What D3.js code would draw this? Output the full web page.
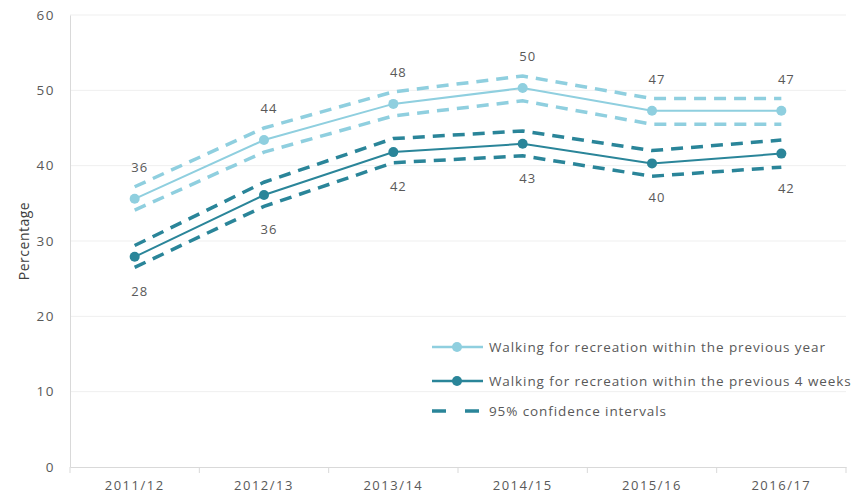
<!DOCTYPE html>
<html><head><meta charset="utf-8">
<script src="https://cdn.jsdelivr.net/npm/d3@7"></script>
<style>body{margin:0;background:#fff;} text{font-family:"Open Sans","DejaVu Sans",sans-serif;}</style>
</head><body>
<svg id="c" width="855" height="500"></svg>
<script>
const categories = ["2011/12","2012/13","2013/14","2014/15","2015/16","2016/17"];
const yearValues = [35.6, 43.4, 48.2, 50.3, 47.3, 47.3];
const yearUpper  = [37.2, 45.0, 49.8, 51.9, 48.9, 48.9];
const yearLower  = [34.1, 41.8, 46.6, 48.6, 45.5, 45.5];
const yearLabels = ["36","44","48","50","47","47"];
const weekValues = [27.9, 36.1, 41.8, 42.9, 40.3, 41.6];
const weekUpper  = [29.4, 37.8, 43.6, 44.6, 42.0, 43.4];
const weekLower  = [26.5, 34.6, 40.4, 41.3, 38.6, 39.8];
const weekLabels = ["28","36","42","43","40","42"];
const yTicks = [0,10,20,30,40,50,60];
const legendLabels = ["Walking for recreation within the previous year","Walking for recreation within the previous 4 weeks","95% confidence intervals"];

const light = "#8fcfdf", dark = "#2a8599", textCol = "#595959";
const svg = d3.select("#c");
const m = {l:70, r:846, t:15, b:467};
const x = d3.scaleBand().domain(categories).range([m.l, m.r]);
const y = d3.scaleLinear().domain([0,60]).range([m.b, m.t]);
const cx = d => x(d) + x.bandwidth()/2;

// gridlines
svg.append("g").selectAll("line").data(yTicks.filter(t=>t>0)).join("line")
  .attr("x1", m.l).attr("x2", m.r).attr("y1", d=>y(d)).attr("y2", d=>y(d))
  .attr("stroke", "#efefef").attr("stroke-width", 1);

// y axis
const ya = svg.append("g").attr("transform", `translate(${m.l},0)`)
  .call(d3.axisLeft(y).tickValues(yTicks).tickSize(0).tickPadding(15));
ya.select(".domain").attr("stroke", "#d9d9d9");
ya.selectAll("text").attr("fill", textCol).attr("font-size", 13.5).attr("letter-spacing", 1.5);

// x axis
const xa = svg.append("g").attr("transform", `translate(0,${m.b})`)
  .call(d3.axisBottom(x).tickSize(0).tickPadding(14));
xa.select(".domain").attr("stroke", "#d9d9d9");
xa.selectAll("text").attr("fill", textCol).attr("font-size", 13).attr("letter-spacing", 1.5);
svg.append("g").selectAll("line").data(categories.concat(["end"])).join("line")
  .attr("x1", (d,i)=> m.l + i*x.bandwidth()).attr("x2", (d,i)=> m.l + i*x.bandwidth())
  .attr("y1", m.b).attr("y2", m.b+6).attr("stroke", "#d9d9d9");

svg.append("text").attr("transform", `translate(29,241) rotate(-90)`)
  .attr("text-anchor","middle").attr("fill","#404040").attr("font-size",14)
  .attr("letter-spacing",0.5).text("Percentage");

const line = d3.line().x((d,i)=>cx(categories[i])).y(d=>y(d));

function dashed(vals, col){
  svg.append("path").datum(vals).attr("d", line).attr("fill","none")
    .attr("stroke", col).attr("stroke-width", 3.5).attr("stroke-dasharray","12,8");
}
dashed(yearUpper, light); dashed(yearLower, light);
dashed(weekUpper, dark); dashed(weekLower, dark);

function series(vals, col){
  svg.append("path").datum(vals).attr("d", line).attr("fill","none")
    .attr("stroke", col).attr("stroke-width", 2);
  svg.append("g").selectAll("circle").data(vals).join("circle")
    .attr("cx",(d,i)=>cx(categories[i])).attr("cy", d=>y(d)).attr("r",5).attr("fill",col);
}
series(yearValues, light);
series(weekValues, dark);

svg.append("g").selectAll("text").data(yearLabels).join("text")
  .attr("x",(d,i)=>cx(categories[i])+5).attr("y",(d,i)=>y(yearValues[i])-27)
  .attr("text-anchor","middle").attr("fill",textCol).attr("font-size",13).attr("letter-spacing",1).text(d=>d);
svg.append("g").selectAll("text").data(weekLabels).join("text")
  .attr("x",(d,i)=>cx(categories[i])+5).attr("y",(d,i)=>y(weekValues[i])+39)
  .attr("text-anchor","middle").attr("fill",textCol).attr("font-size",13).attr("letter-spacing",1).text(d=>d);

// legend
const lg = svg.append("g");
const ly = [347, 381, 411];
[0,1].forEach(i=>{
  const c = i===0?light:dark;
  lg.append("line").attr("x1",432).attr("x2",483).attr("y1",ly[i]).attr("y2",ly[i]).attr("stroke",c).attr("stroke-width",2.5);
  lg.append("circle").attr("cx",457).attr("cy",ly[i]).attr("r",5).attr("fill",c);
});
lg.append("line").attr("x1",432).attr("x2",483).attr("y1",ly[2]).attr("y2",ly[2])
  .attr("stroke",dark).attr("stroke-width",3.5).attr("stroke-dasharray","14,19");
lg.selectAll("text").data(legendLabels).join("text")
  .attr("x",489).attr("y",(d,i)=>ly[i]+4.5).attr("fill",textCol).attr("font-size",13.5)
  .attr("letter-spacing",0.9).text(d=>d);
</script>
</body></html>
